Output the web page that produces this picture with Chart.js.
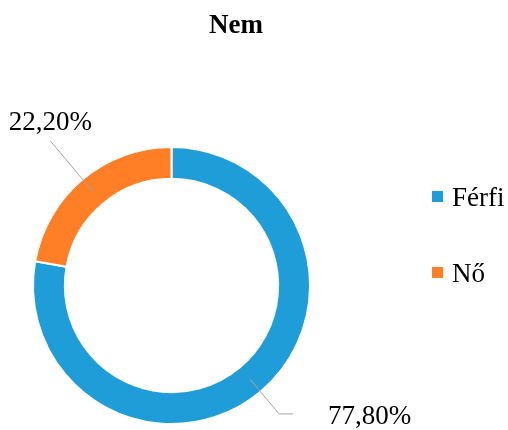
<!DOCTYPE html>
<html>
<head>
<meta charset="utf-8">
<script src="https://cdn.jsdelivr.net/npm/chart.js@4.4.0/dist/chart.umd.min.js"></script>
<style>
  html, body { margin: 0; padding: 0; background: #fff; }
  #wrap { width: 508px; height: 430px; }
</style>
</head>
<body>
<div id="wrap"><canvas id="genderChart" width="508" height="430"></canvas></div>
<script>
const chartTitle = 'Nem';
const categories = ['Férfi', 'Nő'];
const shares = [77.8, 22.2];
const colors = ['#1E9DD9', '#FF7F27'];

const FONT = '"Liberation Serif", "Times New Roman", serif';

function fmtPct(v) {
    return v.toFixed(2).replace('.', ',') + '%';
}

// where each data label sits relative to its slice (Excel-like leader lines)
const labelPlacement = [
    { ext: 29, tail: 14, align: 'left', dx: 35, dy: 10 },
    { ext: 50, tail: 0, align: 'center', dx: 0, dy: -11 }
];

const decorPlugin = {
    id: 'decor',
    afterDatasetsDraw(chart) {
        const ctx = chart.ctx;
        const meta = chart.getDatasetMeta(0);
        ctx.save();

        // title
        ctx.fillStyle = '#000';
        ctx.font = 'bold 27px ' + FONT;
        ctx.textAlign = 'center';
        ctx.textBaseline = 'alphabetic';
        ctx.fillText(chartTitle, 236, 33);

        // legend
        ctx.font = '27px ' + FONT;
        ctx.textAlign = 'left';
        categories.forEach((name, i) => {
            const cy = 196.5 + i * 76;
            ctx.fillStyle = colors[i];
            ctx.fillRect(432, cy - 5.5, 11, 11);
            ctx.fillStyle = '#000';
            ctx.fillText(name, 452, cy + 9);
        });

        // leader lines + value labels
        meta.data.forEach((arc, i) => {
            const p = arc.getProps(['x', 'y', 'startAngle', 'endAngle', 'innerRadius', 'outerRadius'], true);
            const a = (p.startAngle + p.endAngle) / 2;
            const rMid = (p.innerRadius + p.outerRadius) / 2;
            const rEnd = p.outerRadius + labelPlacement[i].ext;
            const x1 = p.x + Math.cos(a) * rMid, y1 = p.y + Math.sin(a) * rMid;
            const x2 = p.x + Math.cos(a) * rEnd, y2 = p.y + Math.sin(a) * rEnd;
            const x3 = x2 + labelPlacement[i].tail;

            ctx.strokeStyle = '#A6A6A6';
            ctx.lineWidth = 1;
            ctx.beginPath();
            ctx.moveTo(x1, y1);
            ctx.lineTo(x2, y2);
            if (labelPlacement[i].tail) ctx.lineTo(x3, y2);
            ctx.stroke();

            ctx.fillStyle = '#000';
            ctx.textAlign = labelPlacement[i].align;
            ctx.fillText(fmtPct(shares[i]), x3 + labelPlacement[i].dx, y2 + labelPlacement[i].dy);
        });

        ctx.restore();
    }
};

const canvas = document.getElementById('genderChart');
new Chart(canvas, {
    type: 'doughnut',
    data: {
        labels: categories,
        datasets: [{
            data: shares,
            backgroundColor: colors,
            borderColor: '#ffffff',
            borderWidth: 2
        }]
    },
    options: {
        responsive: false,
        animation: false,
        cutout: '77%',
        layout: { padding: { left: 32, right: 197, top: 146, bottom: 5 } },
        plugins: {
            legend: { display: false },
            title: { display: false },
            tooltip: { enabled: false }
        }
    },
    plugins: [decorPlugin]
});
</script>
</body>
</html>
